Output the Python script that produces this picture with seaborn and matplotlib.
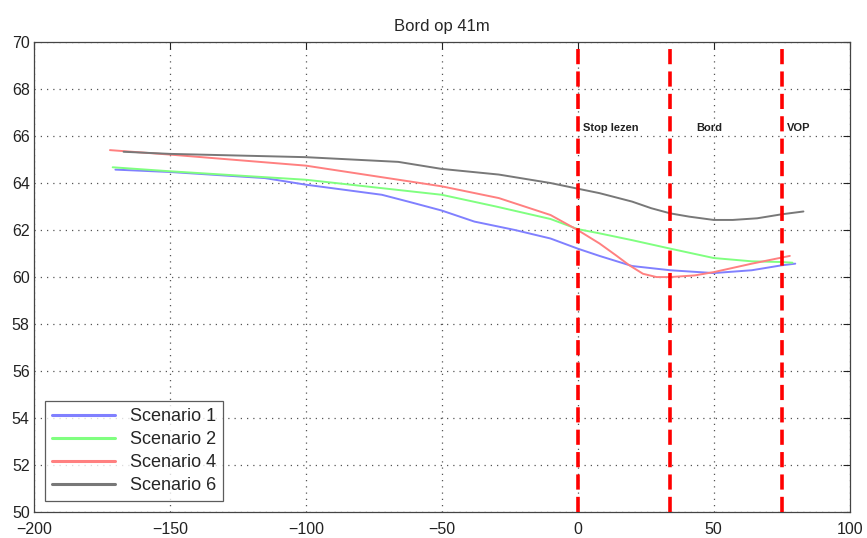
import matplotlib
matplotlib.use("Agg")
import matplotlib.pyplot as plt
import seaborn as sns
import pandas as pd

# --- data ---
s1_x = [-170, -150, -115, -100, -72, -62, -50, -38, -23, -10, 0, 8, 20, 34, 50, 64, 75, 80]
s1_y = [64.57, 64.47, 64.21, 63.93, 63.5, 63.2, 62.83, 62.36, 62.0, 61.64, 61.21, 60.9, 60.47, 60.29, 60.17, 60.29, 60.5, 60.57]

s2_x = [-171, -150, -100, -50, -30, -10, 0, 8, 20, 34, 50, 64, 75, 79]
s2_y = [64.67, 64.5, 64.14, 63.5, 63.0, 62.47, 62.04, 61.86, 61.57, 61.21, 60.81, 60.67, 60.64, 60.61]

s4_x = [-172, -150, -100, -50, -29, -10, 0, 8, 14, 19, 24, 29, 34, 43, 50, 64, 78]
s4_y = [65.4, 65.21, 64.74, 63.86, 63.36, 62.64, 62.0, 61.43, 60.93, 60.5, 60.14, 60.0, 60.0, 60.07, 60.21, 60.57, 60.9]

s6_x = [-167, -150, -100, -66, -50, -29, -10, 0, 8, 20, 27, 34, 41, 50, 57, 66, 75, 83]
s6_y = [65.33, 65.24, 65.1, 64.9, 64.6, 64.36, 64.0, 63.76, 63.57, 63.21, 62.93, 62.71, 62.57, 62.43, 62.43, 62.5, 62.67, 62.79]

series_names = ["Scenario 1", "Scenario 2", "Scenario 4", "Scenario 6"]
series_colors = ["#8080ff", "#80ff80", "#ff8080", "#787878"]

marker_x = [0, 34, 75]
marker_labels = ["Stop lezen", "Bord", "VOP"]
marker_label_x = [2, 43.5, 77]

x_ticks = [-200, -150, -100, -50, 0, 50, 100]
y_ticks = [50, 52, 54, 56, 58, 60, 62, 64, 66, 68, 70]

frames = []
for name, xs, ys in zip(series_names, [s1_x, s2_x, s4_x, s6_x], [s1_y, s2_y, s4_y, s6_y]):
    frames.append(pd.DataFrame({"x": xs, "y": ys, "series": name}))
df = pd.concat(frames, ignore_index=True)

sns.set_style("white")
plt.rcParams['font.family'] = ['Liberation Sans', 'DejaVu Sans']

fig = plt.figure(figsize=(8.67, 5.38), dpi=100)
ax = fig.add_axes([0.039, 0.048, 0.941, 0.874])

sns.lineplot(data=df, x="x", y="y", hue="series", hue_order=series_names,
             palette=dict(zip(series_names, series_colors)), sort=False,
             estimator=None, linewidth=1.4, ax=ax)

for mx in marker_x:
    ax.axvline(mx, color="#ff0000", linewidth=2.6, linestyle=(0, (4.2, 2.0)), zorder=5)
for lx, lab in zip(marker_label_x, marker_labels):
    ax.text(lx, 66.35, lab, fontsize=8, fontweight="bold", ha="left", va="center", color="#222222")

ax.set_xlim(-200, 100)
ax.set_ylim(50, 70)
ax.set_xticks(x_ticks)
ax.set_yticks(y_ticks)
ax.set_xticklabels(["\u2212200", "\u2212150", "\u2212100", "\u221250", "0", "50", "100"])
ax.set_xlabel("")
ax.set_ylabel("")
ax.grid(True, linestyle=(0, (1, 4)), color="#555555", linewidth=0.9)
ax.tick_params(direction="in", length=5, top=True, right=True, labelsize=11.5, colors="#222222")
ax.tick_params(axis="x", pad=7)
ax.tick_params(axis="y", pad=3)
for sp in ax.spines.values():
    sp.set_color("#444444")
    sp.set_linewidth(0.9)
ax.set_title("Bord op 41m", fontsize=12, pad=8)

leg = ax.legend(loc="lower left", fontsize=13, frameon=True, fancybox=False,
                edgecolor="#333333", handlelength=3.5, borderaxespad=0.6,
                labelspacing=0.33, borderpad=0.4)
leg.get_frame().set_linewidth(0.9)
for line in leg.get_lines():
    line.set_linewidth(2.2)

fig.savefig("out.png", dpi=100)
